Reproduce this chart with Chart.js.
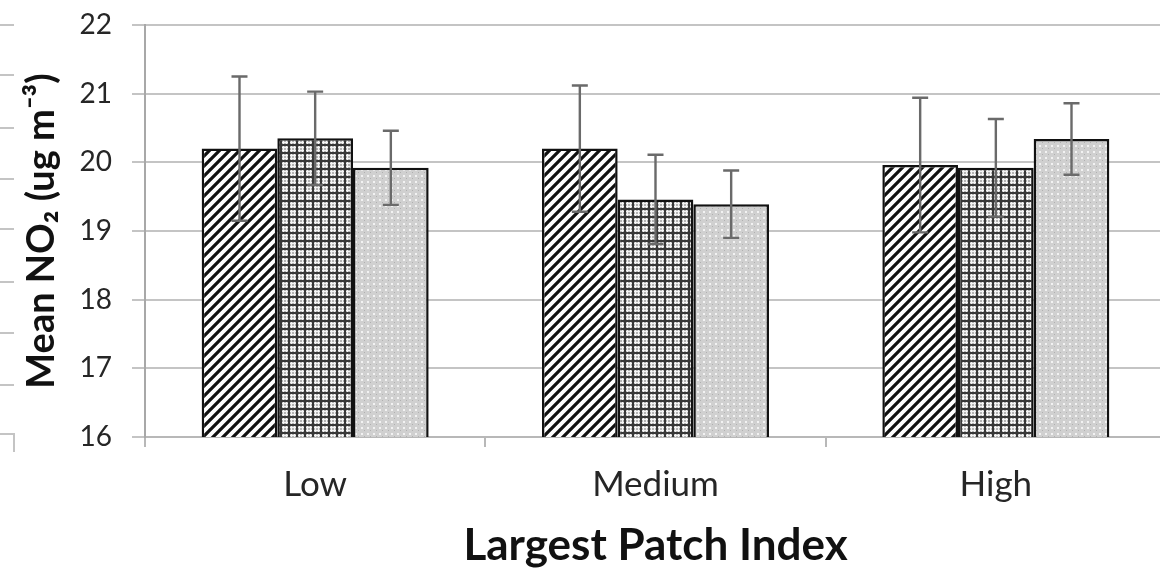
<!DOCTYPE html>
<html>
<head>
<meta charset="utf-8">
<script src="https://cdn.jsdelivr.net/npm/chart.js@4.4.1/dist/chart.umd.min.js"></script>
<style>
  html, body { margin: 0; padding: 0; background: #ffffff; overflow: hidden; }
  #wrap { position: relative; width: 1170px; height: 572px; }
</style>
</head>
<body>
<div id="wrap"><canvas id="chart"></canvas></div>
<script>
// Mean NO2 by Largest Patch Index class, three groups per class
const categories = ['Low', 'Medium', 'High'];
const seriesA = [20.20, 20.20, 19.96];
const seriesB = [20.35, 19.46, 19.92];
const seriesC = [19.92, 19.39, 20.34];
const errorsA = [1.05, 0.92, 0.98];
const errorsB = [0.68, 0.65, 0.71];
const errorsC = [0.54, 0.49, 0.52];
const yTicks = [16, 17, 18, 19, 20, 21, 22];

// Fill patterns for the three series
function makeTile(size, draw) {
  const c = document.createElement('canvas');
  c.width = size; c.height = size;
  const g = c.getContext('2d');
  draw(g, size);
  return document.getElementById('chart').getContext('2d').createPattern(c, 'repeat');
}
const hatch = makeTile(10, (g, s) => {
  g.fillStyle = '#ffffff'; g.fillRect(0, 0, s, s);
  g.strokeStyle = '#111111'; g.lineWidth = 3.2; g.lineCap = 'square';
  for (const o of [-s, 0, s]) {
    g.beginPath(); g.moveTo(o, s); g.lineTo(o + s, 0); g.stroke();
  }
});
const grid = makeTile(8, (g, s) => {
  g.fillStyle = '#b4b4b4'; g.fillRect(0, 0, s, s);
  g.fillStyle = '#f4f4f4';
  g.fillRect(0, 3, s, 1); g.fillRect(3, 0, 1, s);
  g.fillRect(0, 6, s, 1); g.fillRect(6, 0, 1, s);
  g.fillStyle = '#383838';
  g.fillRect(0, 0, s, 2); g.fillRect(0, 0, 2, s);
});
const dots = makeTile(6, (g, s) => {
  g.fillStyle = '#d0d0d0'; g.fillRect(0, 0, s, s);
  g.fillStyle = '#f2f2f2'; g.fillRect(1, 1, 2, 2);
  g.fillStyle = '#b0b0b0'; g.fillRect(4, 4, 1, 1);
});

// Draws the ± error whiskers through the chart's own scales
const errorBars = {
  id: 'errorBars',
  afterDatasetsDraw(chart) {
    const ctx = chart.ctx;
    const y = chart.scales.y;
    ctx.save();
    ctx.strokeStyle = '#6a6a6a';
    ctx.lineWidth = 2.4;
    chart.data.datasets.forEach((ds, i) => {
      const meta = chart.getDatasetMeta(i);
      meta.data.forEach((bar, j) => {
        const v = ds.data[j], e = ds.errors[j];
        const yt = y.getPixelForValue(v + e);
        const yb = y.getPixelForValue(v - e);
        const x = bar.x, cap = 8;
        ctx.beginPath();
        ctx.moveTo(x, yt); ctx.lineTo(x, yb);
        ctx.moveTo(x - cap, yt); ctx.lineTo(x + cap, yt);
        ctx.moveTo(x - cap, yb); ctx.lineTo(x + cap, yb);
        ctx.stroke();
      });
    });
    ctx.restore();
  }
};

// Edge of the neighbouring panel on the far left
const leftEdge = {
  id: 'leftEdge',
  beforeDraw(chart) {
    const ctx = chart.ctx;
    ctx.save();
    ctx.strokeStyle = '#c4c4c4';
    ctx.lineWidth = 2;
    [25, 75, 128, 179, 229, 282, 333, 385].forEach(py => {
      ctx.beginPath(); ctx.moveTo(0, py); ctx.lineTo(14, py); ctx.stroke();
    });
    ctx.beginPath(); ctx.moveTo(0, 434); ctx.lineTo(14, 434); ctx.lineTo(14, 452); ctx.stroke();
    ctx.restore();
  }
};

const fontFamily = 'Lato, "Open Sans", sans-serif';

new Chart(document.getElementById('chart'), {
  type: 'bar',
  data: {
    labels: categories,
    datasets: [
      { data: seriesA, errors: errorsA, backgroundColor: hatch, borderColor: '#111111', borderWidth: 2.5 },
      { data: seriesB, errors: errorsB, backgroundColor: grid, borderColor: '#111111', borderWidth: 2.5 },
      { data: seriesC, errors: errorsC, backgroundColor: dots, borderColor: '#111111', borderWidth: 2.5 }
    ]
  },
  options: {
    responsive: true,
    maintainAspectRatio: false,
    animation: false,
    devicePixelRatio: 1,
    layout: { padding: { top: 25, left: 0, right: 4, bottom: 0 } },
    datasets: { bar: { categoryPercentage: 0.667, barPercentage: 1.0 } },
    plugins: { legend: { display: false }, tooltip: { enabled: false } },
    scales: {
      x: {
        offset: true,
        grid: { offset: true, drawOnChartArea: false, tickLength: 10, color: '#b8b8b8', lineWidth: 2 },
        border: { color: '#b8b8b8', width: 2 },
        ticks: { color: '#262626', padding: 17, font: { family: fontFamily, size: 35 } },
        title: {
          display: true, text: 'Largest Patch Index', color: '#111111',
          font: { family: fontFamily, size: 44, weight: 'bold' },
          padding: { top: 0, bottom: 0 }
        },
        afterFit(scale) { scale.height = 135; scale.paddingLeft = 0; scale.paddingRight = 0; }
      },
      y: {
        min: 16, max: 22,
        afterBuildTicks(scale) { scale.ticks = yTicks.map(v => ({ value: v })); },
        grid: { color: '#c4c4c4', lineWidth: 2, tickLength: 13 },
        border: { color: '#a8a8a8', width: 2 },
        ticks: { color: '#262626', padding: 20, font: { family: fontFamily, size: 28 } },
        title: {
          display: true, text: 'Mean NO\u2082 (ug m\u207B\u00B3)', color: '#111111',
          font: { family: fontFamily, size: 38, weight: 'bold' },
          padding: { top: 19, bottom: 0 }
        },
        afterFit(scale) { scale.width = 145; scale.paddingTop = 0; scale.paddingBottom = 0; }
      }
    }
  },
  plugins: [errorBars, leftEdge]
});
</script>
</body>
</html>
